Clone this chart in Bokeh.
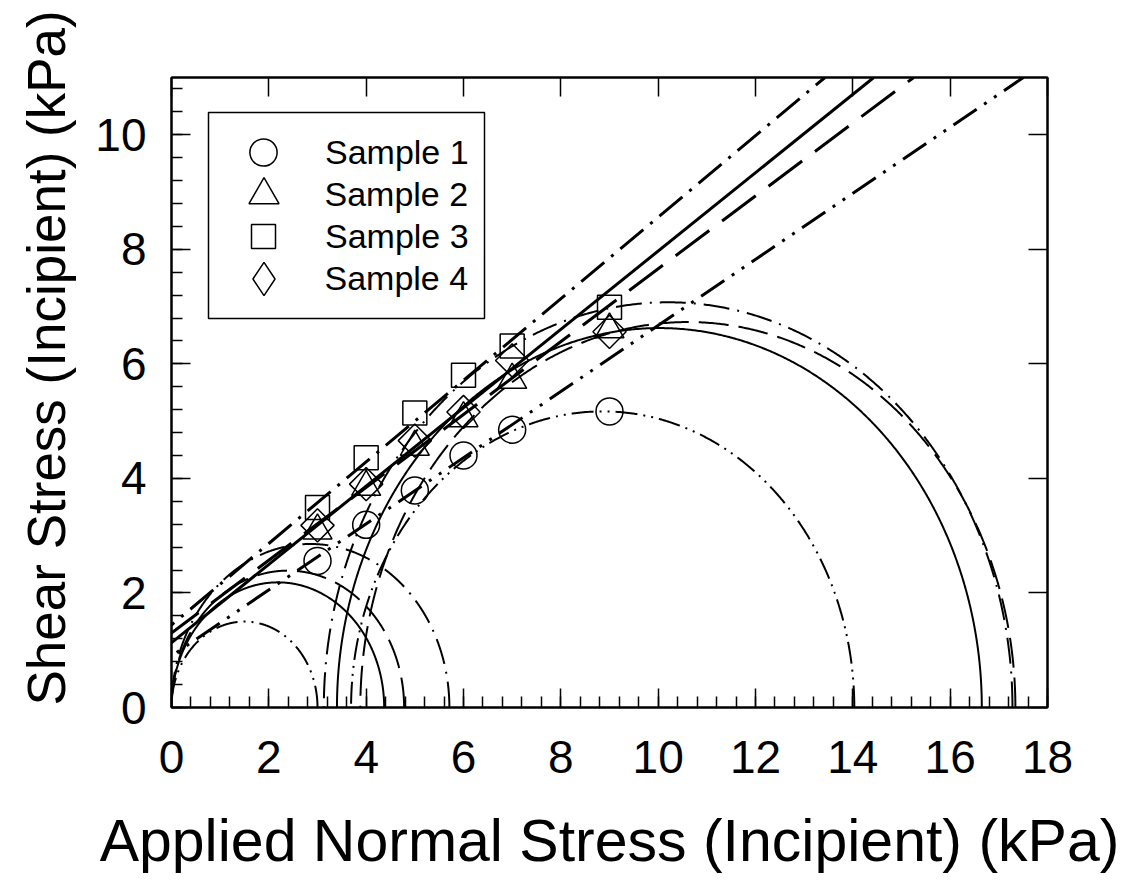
import numpy as np
from bokeh.plotting import figure
from bokeh.models import (Range1d, LinearAxis, SingleIntervalTicker, Legend, LegendItem,
                          Slope, Title, CustomJSTickFormatter, BoxAnnotation)
from bokeh.embed import file_html
from bokeh.resources import INLINE

# ---------------- data ----------------
sample_names = ["Sample 1", "Sample 2", "Sample 3", "Sample 4"]
normal_stress = [3, 4, 5, 6, 7, 9]
shear_s1 = [2.56, 3.19, 3.79, 4.40, 4.85, 5.17]
shear_s2 = [3.09, 3.85, 4.55, 5.05, 5.72, 6.60]
shear_s3 = [3.49, 4.36, 5.14, 5.80, 6.31, 6.99]
shear_s4 = [3.18, 3.90, 4.66, 5.16, 6.06, 6.56]

# failure envelopes: tau = c + tan(phi) * sigma
env_intercept = [0.90, 1.30, 1.44, 1.13]
env_slope = [0.577, 0.636, 0.712, 0.684]

# Mohr circles (sigma3, sigma1), low and high confinement
mohr_s3_low = [0.0, 0.0, 0.0, 0.0]
mohr_s1_low = [3.00, 4.78, 5.71, 4.37]
mohr_s3_high = [3.69, 3.88, 3.13, 3.40]
mohr_s1_high = [14.03, 17.34, 17.28, 16.65]

x_ticks_interval = 2
y_ticks_interval = 2

# ---------------- styles ----------------
FONT = "Liberation Sans"
env_dash = ["28 9 3 9 3 9", "42 16", "30 9 3 9", "solid"]
circ_dash = ["22 6 2 6 2 6", "30 10", "26 8 2 8", "solid"]

p = figure(frame_width=876, frame_height=630,
           x_range=Range1d(0, 18), y_range=Range1d(0, 11),
           output_backend="svg", toolbar_location=None,
           min_border_left=171, min_border_top=77, min_border_right=76,
           min_border_bottom=150, background_fill_color="white",
           border_fill_color="white")
p.grid.visible = False
p.outline_line_color = "black"
p.outline_line_width = 2

# ---- axes ----
xa = p.xaxis[0]
ya = p.yaxis[0]
xa.ticker = SingleIntervalTicker(interval=x_ticks_interval, num_minor_ticks=5)
ya.ticker = SingleIntervalTicker(interval=y_ticks_interval, num_minor_ticks=5)
for ax in (xa, ya):
    ax.major_tick_in = 19
    ax.major_tick_out = 0
    ax.minor_tick_in = 11
    ax.minor_tick_out = 0
    ax.axis_line_width = 2
    ax.axis_line_color = "black"
    ax.major_tick_line_width = 1.5
    ax.minor_tick_line_width = 1.5
    ax.major_tick_line_color = "black"
    ax.minor_tick_line_color = "black"
    ax.major_label_text_font = FONT
    ax.major_label_text_font_size = "46px"
    ax.major_label_text_color = "black"
xa.major_label_standoff = 33
ya.major_label_standoff = 25

xa.axis_label = "Applied Normal Stress (Incipient) (kPa)"
xa.axis_label_text_font = FONT
xa.axis_label_text_font_size = "59px"
xa.axis_label_text_font_style = "normal"
xa.axis_label_text_color = "black"
xa.axis_label_standoff = 32

blank = CustomJSTickFormatter(code="return ''")
top = LinearAxis(ticker=SingleIntervalTicker(interval=x_ticks_interval, num_minor_ticks=0),
                 formatter=blank, major_tick_in=19, major_tick_out=0,
                 minor_tick_line_color=None, axis_line_width=2, major_tick_line_width=1.5,
                 major_label_standoff=0)
right = LinearAxis(ticker=SingleIntervalTicker(interval=y_ticks_interval, num_minor_ticks=0),
                   formatter=blank, major_tick_in=19, major_tick_out=0,
                   minor_tick_line_color=None, axis_line_width=2, major_tick_line_width=1.5,
                   major_label_standoff=0)
p.add_layout(top, "above")
p.add_layout(right, "right")

# y title as a side title so that it can be offset along the axis
ytitle = Title(text="Shear Stress (Incipient) (kPa)", align="left", offset=2,
               vertical_align="top", standoff=29, text_font=FONT,
               text_font_size="53px", text_font_style="normal", text_color="black")
p.add_layout(ytitle, "left")

# ---- Mohr circles ----
theta = np.linspace(0, np.pi, 721)
for i in range(4):
    for s3, s1 in ((mohr_s3_low[i], mohr_s1_low[i]), (mohr_s3_high[i], mohr_s1_high[i])):
        c = (s1 + s3) / 2.0
        r = (s1 - s3) / 2.0
        p.line(c + r * np.cos(theta), r * np.sin(theta), line_color="black",
               line_width=2, line_dash=circ_dash[i])

# ---- failure envelopes ----
for i in range(4):
    p.add_layout(Slope(gradient=env_slope[i], y_intercept=env_intercept[i],
                       line_color="black", line_width=3, line_dash=env_dash[i]))

# ---- data points ----
common = dict(fill_color=None, line_color="black", line_width=1.5)
r1 = p.scatter(normal_stress, shear_s1, marker="circle", size=27, **common)
r2 = p.scatter(normal_stress, shear_s2, marker="triangle", size=29, **common)
r3 = p.scatter(normal_stress, shear_s3, marker="square", size=24, **common)
r4 = p.scatter(normal_stress, shear_s4, marker="square", angle=np.pi / 4, size=23.5, **common)
# hidden twin of the Sample 4 points: only used for its (unrotated) legend glyph
r4_leg = p.scatter(normal_stress, shear_s4, marker="diamond", size=33, visible=False, **common)

# ---- legend: framed box + one single-entry legend per sample ----
box_left, box_right, box_top, box_bottom = 37, 313, 595, 389   # px from frame bottom-left
p.add_layout(BoxAnnotation(left=box_left, right=box_right, top=box_top, bottom=box_bottom,
                           left_units="screen", right_units="screen",
                           top_units="screen", bottom_units="screen",
                           fill_color="white", fill_alpha=1.0,
                           line_color="black", line_alpha=1.0, line_width=1.5))

leg_renderers = [r1, r2, r3, r4_leg]
glyph_box = [68, 75, 60, 83]          # legend glyph box -> marker size = 0.4 * box
marker_cx = 92                        # px from frame left
label_x = 154
row_cy = [555, 513, 471, 429]         # px from frame bottom
for name, rend, gb, cy in zip(sample_names, leg_renderers, glyph_box, row_cy):
    lg = Legend(items=[LegendItem(label=name, renderers=[rend])],
                location=(marker_cx - gb / 2.0, cy - gb / 2.0),
                glyph_height=gb, glyph_width=gb, padding=0, margin=0, spacing=0,
                label_standoff=int(round(label_x - marker_cx - gb / 2.0)),
                label_text_font=FONT, label_text_font_size="34px",
                label_text_color="black", border_line_color=None,
                background_fill_alpha=0.0, inactive_fill_alpha=0.0)
    p.add_layout(lg)

open("out.html", "w").write(file_html(p, INLINE))
